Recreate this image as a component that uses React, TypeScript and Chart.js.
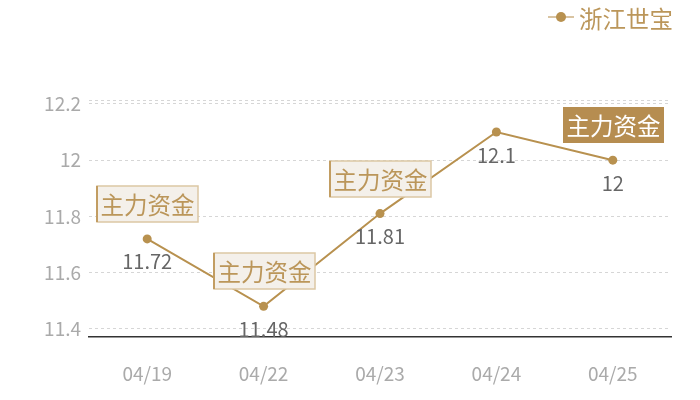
import { useEffect, useRef } from 'react';
import { Chart, registerables } from 'chart.js';

Chart.register(...registerables);

const categories = ['04/19', '04/22', '04/23', '04/24', '04/25'];
const prices = [11.72, 11.48, 11.81, 12.1, 12];
// '' = no tag, 'outline' = light tag, 'solid' = filled tag
const notes = ['主力资金', '主力资金', '主力资金', '', '主力资金'];
const noteStyles = ['outline', 'outline', 'outline', '', 'solid'];
const yTicks = [11.4, 11.6, 11.8, 12, 12.2];
const seriesName = '浙江世宝';

const Y_MIN = 11.371;
const Y_MAX = 12.214;
const GOLD = '#b8914f';
const FONT = "'Noto Sans CJK SC', 'Noto Sans', sans-serif";

const labelsPlugin = {
  id: 'labelsAndTags',
  afterDatasetsDraw(chart: Chart) {
    const { ctx } = chart;
    const meta = chart.getDatasetMeta(0);
    ctx.save();
    // value labels under each point
    ctx.font = `20px ${FONT}`;
    ctx.fillStyle = '#666666';
    ctx.textAlign = 'center';
    ctx.textBaseline = 'middle';
    meta.data.forEach((pt, i) => {
      ctx.fillText(String(prices[i]), pt.x, pt.y + 23);
    });
    // tags above the points
    const w = 101;
    const h = 36;
    meta.data.forEach((pt, i) => {
      if (!notes[i]) return;
      const cx = Math.round(pt.x) + 0.5;
      const cy = Math.round(pt.y - 35);
      const x0 = cx - w / 2;
      const y0 = cy - h / 2;
      if (noteStyles[i] === 'solid') {
        ctx.fillStyle = '#b68d50';
        ctx.fillRect(x0, y0, w, h);
        ctx.fillStyle = '#ffffff';
      } else {
        ctx.fillStyle = '#f4f0ea';
        ctx.fillRect(x0, y0, w, h);
        ctx.strokeStyle = '#dcc7a4';
        ctx.lineWidth = 1.5;
        ctx.strokeRect(x0, y0, w, h);
        ctx.strokeStyle = '#c29d62';
        ctx.lineWidth = 2;
        ctx.beginPath();
        ctx.moveTo(x0, y0);
        ctx.lineTo(x0, y0 + h);
        ctx.stroke();
        ctx.fillStyle = '#bb965a';
      }
      ctx.font = `23.5px ${FONT}`;
      ctx.fillText(notes[i], cx, cy + 1);
    });
    ctx.restore();
  },
  afterDraw(chart: Chart) {
    const { ctx } = chart;
    const right = chart.width - 27;
    ctx.save();
    ctx.font = `23.5px ${FONT}`;
    const tw = ctx.measureText(seriesName).width;
    const tx = right - tw;
    const my = 17;
    ctx.strokeStyle = '#d9c4a2';
    ctx.lineWidth = 2;
    ctx.beginPath();
    ctx.moveTo(tx - 31, my);
    ctx.lineTo(tx - 5, my);
    ctx.stroke();
    ctx.fillStyle = GOLD;
    ctx.beginPath();
    ctx.arc(tx - 18, my, 5, 0, Math.PI * 2);
    ctx.fill();
    ctx.fillStyle = '#bb965a';
    ctx.textAlign = 'left';
    ctx.textBaseline = 'middle';
    ctx.fillText(seriesName, tx, my + 2);
    ctx.restore();
  }
};

export default function App() {
  const canvasRef = useRef<HTMLCanvasElement | null>(null);
  const chartRef = useRef<Chart | null>(null);

  useEffect(() => {
    if (!canvasRef.current) return;
    if (chartRef.current) chartRef.current.destroy();

    chartRef.current = new Chart(canvasRef.current, {
      type: 'line',
      data: {
        labels: categories,
        datasets: [
          {
            label: seriesName,
            data: prices,
            borderColor: GOLD,
            backgroundColor: GOLD,
            borderWidth: 2,
            pointRadius: 4.5,
            pointBorderWidth: 0,
            pointBackgroundColor: GOLD,
            tension: 0
          }
        ]
      },
      options: {
        responsive: false,
        animation: false,
        layout: { padding: { top: 100, right: 29, left: 0, bottom: 0 } },
        scales: {
          x: {
            offset: true,
            grid: { display: false, drawTicks: false },
            border: { display: true, color: '#333333', width: 1.5 },
            ticks: {
              color: '#aaaaaa',
              font: { family: FONT, size: 19 },
              padding: 25
            },
            afterFit: (scale) => {
              scale.height = 63;
            }
          },
          y: {
            min: Y_MIN,
            max: Y_MAX,
            grid: { color: '#d6d6d6', drawTicks: false, lineWidth: 1 },
            border: { display: false, dash: [3, 3] },
            ticks: {
              color: '#aaaaaa',
              font: { family: FONT, size: 19 },
              padding: 8,
              callback: (v) => {
                const n = Number(v);
                if (Math.abs(n - Y_MAX) < 1e-6) return '';
                return String(Number(n.toFixed(1)));
              }
            },
            afterBuildTicks: (scale) => {
              scale.ticks = [...yTicks, Y_MAX].map((value) => ({ value }));
            },
            afterFit: (scale) => {
              scale.width = 89;
            }
          }
        },
        plugins: {
          legend: { display: false },
          tooltip: { enabled: false }
        }
      },
      plugins: [labelsPlugin]
    });

    return () => {
      if (chartRef.current) {
        chartRef.current.destroy();
        chartRef.current = null;
      }
    };
  }, []);

  return (
    <div style={{ position: 'fixed', left: 0, top: 0, width: 700, height: 400, background: '#ffffff' }}>
      <canvas ref={canvasRef} width={700} height={400} style={{ display: 'block' }} />
    </div>
  );
}
